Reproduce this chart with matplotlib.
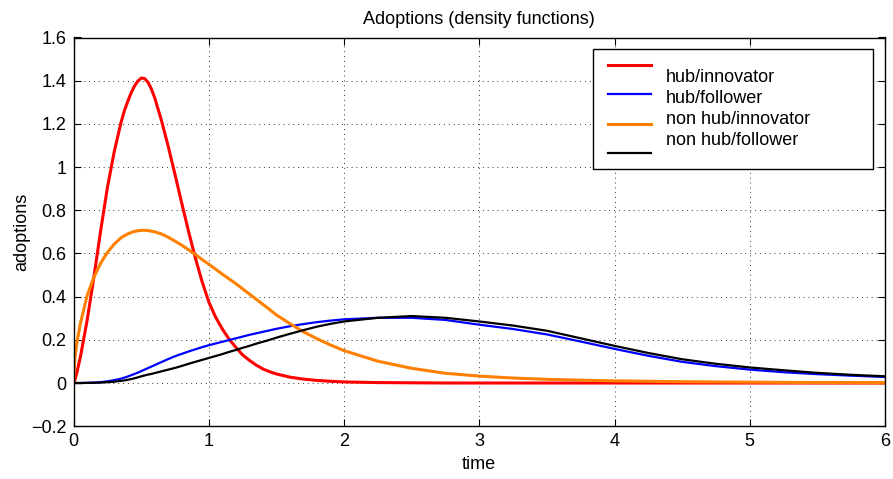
import matplotlib
matplotlib.use("Agg")
import matplotlib.pyplot as plt
from matplotlib.patches import Rectangle

plt.rcParams['font.family'] = ['Liberation Sans', 'DejaVu Sans']

title = "Adoptions (density functions)"
xlabel = "time"
ylabel = "adoptions"
labels = ["hub/innovator", "hub/follower", "non hub/innovator", "non hub/follower"]
colors = ["#FF0000", "#0000FF", "#FF8000", "#000000"]

time = [0.0, 0.01, 0.025, 0.05, 0.1, 0.15, 0.2, 0.25, 0.3, 0.35, 0.375, 0.4, 0.425,
        0.45, 0.475, 0.5, 0.525, 0.55, 0.575, 0.6, 0.65,
        0.7, 0.75, 0.8, 0.85, 0.9, 0.95, 1.0, 1.05, 1.1, 1.15, 1.2, 1.25, 1.3, 1.35,
        1.4, 1.45, 1.5, 1.6, 1.7, 1.8, 1.9, 2.0, 2.25, 2.5, 2.75, 3.0, 3.25, 3.5,
        3.75, 4.0, 4.25, 4.5, 4.75, 5.0, 5.25, 5.5, 5.75, 6.0]

hub_innovator = [0.0, 0.015, 0.05, 0.12, 0.29, 0.49, 0.705, 0.905, 1.07, 1.205, 1.26,
                 1.303, 1.343, 1.375, 1.398, 1.412, 1.41, 1.393, 1.362, 1.32, 1.215,
                 1.095, 0.965, 0.832, 0.702, 0.58, 0.47,
                 0.375, 0.305, 0.25, 0.203, 0.165, 0.13, 0.105, 0.083, 0.065, 0.052,
                 0.042, 0.027, 0.018, 0.012, 0.008, 0.005, 0.002, 0.001, 0.0, 0.0,
                 0.0, 0.0, 0.0, 0.0, 0.0, 0.0, 0.0, 0.0, 0.0, 0.0, 0.0, 0.0]

hub_follower = [0.0, 0.0, 0.0, 0.0, 0.001, 0.002, 0.004, 0.008, 0.013, 0.02, 0.025,
                0.03, 0.036, 0.042, 0.048, 0.055, 0.062, 0.069, 0.076, 0.083, 0.097,
                0.111, 0.124, 0.135, 0.146, 0.156, 0.166,
                0.175, 0.183, 0.191, 0.199, 0.207, 0.215, 0.223, 0.23, 0.237, 0.244,
                0.251, 0.263, 0.273, 0.282, 0.289, 0.295, 0.302, 0.302, 0.292, 0.27,
                0.25, 0.225, 0.192, 0.158, 0.126, 0.098, 0.078, 0.062, 0.05, 0.041,
                0.034, 0.028]

nonhub_innovator = [0.0, 0.12, 0.19, 0.275, 0.405, 0.49, 0.555, 0.605, 0.643, 0.672,
                    0.682, 0.69, 0.697, 0.702, 0.705, 0.707, 0.707, 0.706, 0.703, 0.7,
                    0.69, 0.675, 0.657, 0.638, 0.617, 0.595, 0.572,
                    0.55, 0.527, 0.504, 0.482, 0.46, 0.436, 0.412, 0.388, 0.364, 0.34,
                    0.315, 0.275, 0.237, 0.205, 0.176, 0.15, 0.101, 0.068, 0.045, 0.032,
                    0.023, 0.017, 0.013, 0.01, 0.008, 0.006, 0.005, 0.004, 0.003, 0.002,
                    0.002, 0.001]

nonhub_follower = [0.0, 0.0, 0.0, 0.0, 0.0005, 0.001, 0.002, 0.004, 0.006, 0.01, 0.012,
                   0.015, 0.018, 0.022, 0.026, 0.031, 0.035, 0.039, 0.042, 0.046, 0.054,
                   0.062, 0.07, 0.079, 0.089, 0.098, 0.107,
                   0.116, 0.125, 0.134, 0.144, 0.153, 0.163, 0.172, 0.182, 0.191, 0.2,
                   0.21, 0.228, 0.245, 0.261, 0.274, 0.285, 0.302, 0.31, 0.302, 0.285,
                   0.266, 0.242, 0.207, 0.172, 0.139, 0.11, 0.089, 0.072, 0.059, 0.047,
                   0.038, 0.031]

xticks = [0, 1, 2, 3, 4, 5, 6]
yticks = [-0.2, 0, 0.2, 0.4, 0.6, 0.8, 1, 1.2, 1.4, 1.6]
ytick_labels = ["\u22120.2", "0", "0.2", "0.4", "0.6", "0.8", "1", "1.2", "1.4", "1.6"]

series = [hub_innovator, hub_follower, nonhub_innovator, nonhub_follower]
widths = [2.2, 1.6, 2.2, 1.6]
fs = 13

fig = plt.figure(figsize=(8.93, 4.79), dpi=100)
ax = fig.add_axes([73.6 / 893, (479 - 426.2) / 479, (885 - 73.6) / 893, (426.2 - 37.5) / 479])

for ys, c, lw in zip(series, colors, widths):
    ax.plot(time, ys, color=c, lw=lw, solid_capstyle='round', solid_joinstyle='round')

ax.set_xlim(0, 6)
ax.set_ylim(-0.2, 1.6)
ax.set_xticks(xticks)
ax.set_xticklabels([str(t) for t in xticks])
ax.set_yticks(yticks)
ax.set_yticklabels(ytick_labels)
ax.tick_params(direction='in', length=5, width=0.8, top=True, right=True,
               labelsize=fs, pad=5, colors='black')
for s in ax.spines.values():
    s.set_linewidth(1.0)
ax.grid(True, color='#333333', linestyle=(0, (1, 4)), linewidth=0.7)

ax.set_title(title, fontsize=fs, pad=10)
ax.set_xlabel(xlabel, fontsize=fs, labelpad=4)
ax.set_ylabel(ylabel, fontsize=fs, labelpad=1)

# legend box (MATLAB-style)
def px_to_ax(px, py):
    x0, x1 = 73.6, 885
    y0, y1 = 426.2, 37.5
    return (px - x0) / (x1 - x0), (y0 - py) / (y0 - y1)

bx0, by0 = px_to_ax(593.3, 169)
bx1, by1 = px_to_ax(872.7, 49)
ax.add_patch(Rectangle((bx0, by0), bx1 - bx0, by1 - by0, transform=ax.transAxes,
                       facecolor='white', edgecolor='black', lw=1.0, zorder=5))
line_py = [65, 94.3, 124, 153.3]
text_py = [77.5, 98.5, 119.5, 140.5]
for lab, c, lw, lpy, tpy in zip(labels, colors, widths, line_py, text_py):
    lx0, ly = px_to_ax(608.3, lpy)
    lx1, _ = px_to_ax(651, lpy)
    ax.plot([lx0, lx1], [ly, ly], transform=ax.transAxes, color=c, lw=lw, zorder=6)
    tx, ty = px_to_ax(666, tpy)
    ax.text(tx, ty, lab, transform=ax.transAxes, fontsize=fs, va='center', ha='left', zorder=6)

fig.savefig("out.png", dpi=100)
